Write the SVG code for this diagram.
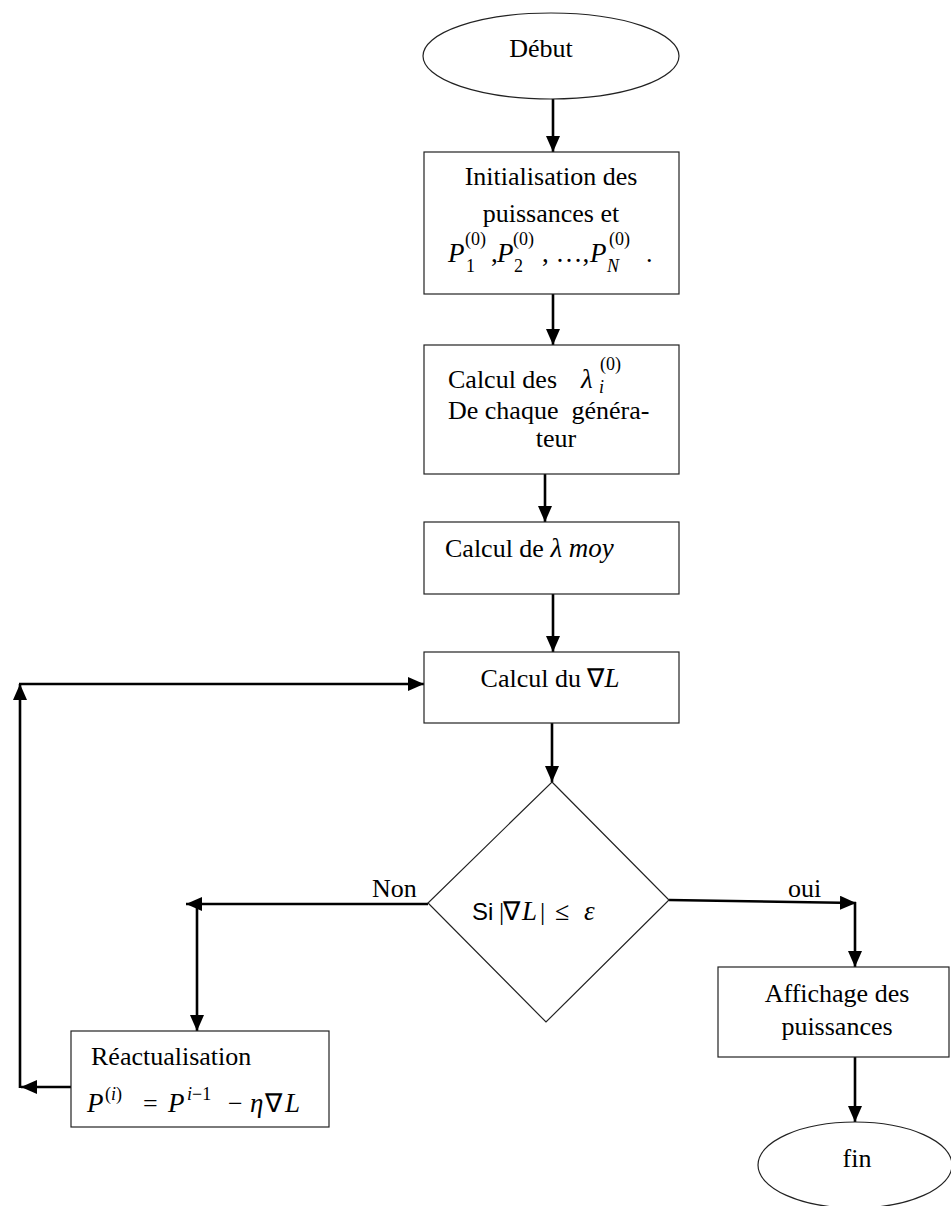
<svg xmlns="http://www.w3.org/2000/svg" width="951" height="1206" viewBox="0 0 951 1206">
<style>
.shape{fill:#fff;stroke:#222;stroke-width:1.2}
.conn{fill:none;stroke:#000;stroke-width:2.6}
.t{font-family:"Liberation Serif","Times New Roman",serif;font-size:26px;fill:#000;font-style:normal}
.m{font-family:"Liberation Serif","Times New Roman",serif;font-style:italic;font-size:27px;fill:#000}
.s{font-size:18px}
.up{font-style:normal}
.sans{font-family:"Liberation Sans",Arial,sans-serif;font-size:24px;font-style:normal;fill:#000}
</style>
<defs>
<marker id="ah" viewBox="0 0 16 14" refX="16" refY="7" markerWidth="16" markerHeight="14" markerUnits="userSpaceOnUse" orient="auto">
<path d="M0,0 L16,7 L0,14 z" fill="#000"/>
</marker>
</defs>
<rect width="951" height="1206" fill="#fff"/>

<g id="connectors">
<path class="conn" d="M553,99 V152" marker-end="url(#ah)"/>
<path class="conn" d="M553,294 V345" marker-end="url(#ah)"/>
<path class="conn" d="M545,474 V522" marker-end="url(#ah)"/>
<path class="conn" d="M553,594 V652" marker-end="url(#ah)"/>
<path class="conn" d="M552,723 V782" marker-end="url(#ah)"/>
<path class="conn" d="M428,904 H186" marker-end="url(#ah)"/>
<path class="conn" d="M197,904 V1031" marker-end="url(#ah)"/>
<path class="conn" d="M71,1087 H21" marker-end="url(#ah)"/>
<path class="conn" d="M20,1088 V684" marker-end="url(#ah)"/>
<path class="conn" d="M19,684 H424" marker-end="url(#ah)"/>
<path class="conn" d="M669,900 L856,903" marker-end="url(#ah)"/>
<path class="conn" d="M855,902 V967" marker-end="url(#ah)"/>
<path class="conn" d="M855,1057 V1122" marker-end="url(#ah)"/>
</g>

<g id="debut">
<ellipse class="shape" cx="551" cy="56" rx="128" ry="43"/>
<text class="t" x="541" y="57" text-anchor="middle">Début</text>
</g>

<g id="init">
<rect class="shape" x="424" y="152" width="255" height="142"/>
<text class="t" x="551" y="185" text-anchor="middle">Initialisation des</text>
<text class="t" x="551" y="222" text-anchor="middle">puissances et</text>
<text class="m" x="448" y="262">P</text>
<text class="m s up" x="466" y="272">1</text>
<text class="m s up" x="465" y="245">(0)</text>
<text class="m up" x="491" y="262">,</text>
<text class="m" x="497" y="262">P</text>
<text class="m s up" x="514" y="272">2</text>
<text class="m s up" x="513" y="245">(0)</text>
<text class="m up" x="542" y="262">, …,</text>
<text class="m" x="590" y="262">P</text>
<text class="m s" x="607" y="272">N</text>
<text class="m s up" x="609" y="245">(0)</text>
<text class="t" x="646" y="262">.</text>
</g>

<g id="lambda">
<rect class="shape" x="424" y="345" width="255" height="129"/>
<text class="t" x="448" y="388">Calcul des</text>
<text class="m" x="581" y="388">λ</text>
<text class="m s" x="599" y="393">i</text>
<text class="m s up" x="600" y="370">(0)</text>
<text class="t" x="448" y="419">De chaque&#160; généra-</text>
<text class="t" x="556" y="447" text-anchor="middle">teur</text>
</g>

<g id="lambdamoy">
<rect class="shape" x="424" y="522" width="255" height="72"/>
<text class="t" x="445" y="557">Calcul de <tspan class="m">λ moy</tspan></text>
</g>

<g id="gradient">
<rect class="shape" x="424" y="652" width="255" height="71"/>
<text class="t" x="550" y="687" text-anchor="middle">Calcul du ∇<tspan class="m">L</tspan></text>
</g>

<g id="decision">
<polygon class="shape" points="552,782 669,900 546,1022 428,903"/>
<text class="sans" x="472" y="920">Si</text>
<text class="t" x="499" y="920">|</text>
<text class="t" x="503" y="920">∇</text>
<text class="m" x="522" y="920">L</text>
<text class="t" x="540" y="920">|</text>
<text class="t" x="555" y="920">≤</text>
<text class="m" x="584" y="920">ε</text>
</g>

<g id="labels">
<text class="t" x="372" y="897">Non</text>
<text class="t" x="788" y="897">oui</text>
</g>

<g id="reactualisation">
<rect class="shape" x="71" y="1031" width="258" height="96"/>
<text class="t" x="91" y="1065">Réactualisation</text>
<text class="m" x="87" y="1112">P</text>
<text class="m s" x="105" y="1100"><tspan class="up">(</tspan>i<tspan class="up">)</tspan></text>
<text class="t" x="143" y="1112">=</text>
<text class="m" x="168" y="1112">P</text>
<text class="m s" x="187" y="1100">i<tspan class="up">−1</tspan></text>
<text class="t" x="228" y="1112">−</text>
<text class="m" x="250" y="1112">η</text>
<text class="t" x="265" y="1112">∇</text>
<text class="m" x="285" y="1112">L</text>
</g>

<g id="affichage">
<rect class="shape" x="718" y="967" width="231" height="90"/>
<text class="t" x="837" y="1002" text-anchor="middle">Affichage des</text>
<text class="t" x="837" y="1035" text-anchor="middle">puissances</text>
</g>

<g id="fin">
<ellipse class="shape" cx="855" cy="1165" rx="97" ry="43"/>
<text class="t" x="857" y="1167" text-anchor="middle">fin</text>
</g>
</svg>
